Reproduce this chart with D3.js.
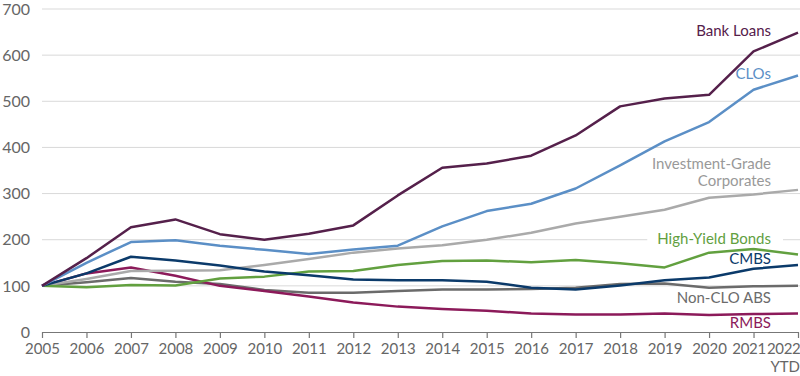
<!DOCTYPE html>
<html>
<head>
<meta charset="utf-8">
<script src="https://cdn.jsdelivr.net/npm/d3@7"></script>
<style>
  body { margin: 0; background: #fff; }
  svg { display: block; font-family: Lato, "Open Sans", sans-serif; }
</style>
</head>
<body>
<div class="chart"></div>
<script>
// years along the x axis
const years = [2005, 2006, 2007, 2008, 2009, 2010, 2011, 2012, 2013, 2014, 2015, 2016, 2017, 2018, 2019, 2020, 2021, 2022];
const yTicks = [0, 100, 200, 300, 400, 500, 600, 700];

// index values (2005 = 100)
const bankLoans = [100, 160, 227, 244, 212, 200, 213, 231, 296, 356, 365, 382, 426, 489, 506, 514, 608, 649];
const clos      = [100, 150, 195, 199, 187, 178, 169, 179, 187, 229, 262, 278, 311, 361, 413, 455, 525, 556];
const igCorp    = [100, 115, 132, 133, 134, 145, 158, 172, 181, 188, 200, 215, 235, 250, 265, 291, 298, 308];
const hyBonds   = [100,  97, 102, 101, 116, 120, 131, 132, 145, 154, 155, 151, 156, 149, 140, 172, 180, 168];
const cmbs      = [100, 127, 163, 155, 144, 131, 123, 114, 112, 112, 109,  96,  92, 101, 112, 118, 137, 145];
const nonCloAbs = [100, 108, 117, 109, 104,  91,  85,  85,  89,  92,  92,  93,  96, 104, 105,  96,  99, 100];
const rmbs      = [100, 127, 140, 122, 100,  89,  77,  64,  55,  50,  46,  40,  38,  38,  40,  37,  39,  40];

const series = [
  {name: "Non-CLO ABS", values: nonCloAbs, color: "#6b6b6b", label: ["Non-CLO ABS"], ly: 298},
  {name: "RMBS", values: rmbs, color: "#8c1a5a", label: ["RMBS"], ly: 323},
  {name: "IG", values: igCorp, color: "#aaaaaa", textColor: "#999999", label: ["Investment-Grade", "Corporates"], ly: 164},
  {name: "HY", values: hyBonds, color: "#62a03f", label: ["High-Yield Bonds"], ly: 239, box: true},
  {name: "CMBS", values: cmbs, color: "#0b3a6a", label: ["CMBS"], ly: 259},
  {name: "CLOs", values: clos, color: "#5b8fc6", label: ["CLOs"], ly: 74},
  {name: "Bank Loans", values: bankLoans, color: "#55204b", label: ["Bank Loans"], ly: 31}
];

const W = 800, H = 376;
const margin = {top: 9, right: 2, bottom: 44, left: 42};
const fs = 15;

const svg = d3.select(".chart").append("svg")
  .attr("width", W)
  .attr("height", H);

const x = d3.scalePoint()
  .domain(years)
  .range([margin.left, W - margin.right]);

const y = d3.scaleLinear()
  .domain([0, 700])
  .range([H - margin.bottom, margin.top]);

// gridlines
svg.append("g")
  .selectAll("line")
  .data(yTicks.filter(d => d > 0))
  .join("line")
  .attr("x1", margin.left)
  .attr("x2", W)
  .attr("y1", d => y(d))
  .attr("y2", d => y(d))
  .attr("stroke", "#d9d9d9")
  .attr("stroke-width", 1);

// y labels, right aligned
svg.append("g")
  .selectAll("text")
  .data(yTicks)
  .join("text")
  .attr("x", 30)
  .attr("y", d => y(d))
  .attr("dy", "0.36em")
  .attr("text-anchor", "end")
  .attr("fill", "#666")
  .attr("font-size", fs + 1)
  .text(d => d);

// x axis
const xAxis = svg.append("g")
  .attr("transform", `translate(0, ${y(0)})`)
  .call(d3.axisBottom(x).tickSize(6).tickSizeOuter(0).tickPadding(5));
xAxis.select(".domain").attr("stroke", "#777").attr("stroke-width", 1.2);
xAxis.selectAll(".tick line").attr("stroke", "#777").attr("stroke-width", 1.2);
xAxis.selectAll(".tick text")
  .attr("fill", "#666")
  .attr("font-size", fs)
  .attr("font-family", "Lato, 'Open Sans', sans-serif");
// last two labels are squeezed together at the right edge
xAxis.selectAll(".tick text").filter(d => d === 2021).attr("dx", -5).attr("letter-spacing", -0.3);
xAxis.selectAll(".tick text").filter(d => d === 2022).attr("text-anchor", "end").attr("dx", 2).attr("letter-spacing", -0.3);

svg.append("text")
  .attr("x", x(2022) + 2)
  .attr("y", y(0) + 40)
  .attr("text-anchor", "end")
  .attr("fill", "#666")
  .attr("font-size", fs)
  .text("YTD");

// lines
const line = d3.line()
  .x((d, i) => x(years[i]))
  .y(d => y(d));

svg.append("g")
  .selectAll("path")
  .data(series)
  .join("path")
  .attr("d", d => line(d.values))
  .attr("fill", "none")
  .attr("stroke", d => d.color)
  .attr("stroke-width", 2.5)
  .attr("stroke-linejoin", "round");

// series labels
const labelX = 771;
const lg = svg.append("g");
series.forEach(s => {
  const t = lg.append("text")
    .attr("x", labelX)
    .attr("y", s.ly)
    .attr("text-anchor", "end")
    .attr("fill", s.textColor || s.color)
    .attr("font-size", fs);
  s.label.forEach((l, i) => {
    t.append("tspan")
      .attr("x", labelX)
      .attr("dy", i === 0 ? "0.36em" : "1.1em")
      .text(l);
  });
  if (s.box) {
    const bb = t.node().getBBox();
    lg.insert("rect", "text")
      .attr("x", bb.x - 10)
      .attr("y", bb.y)
      .attr("width", bb.width + 22)
      .attr("height", bb.height)
      .attr("fill", "#fff");
  }
});
</script>
</body>
</html>
